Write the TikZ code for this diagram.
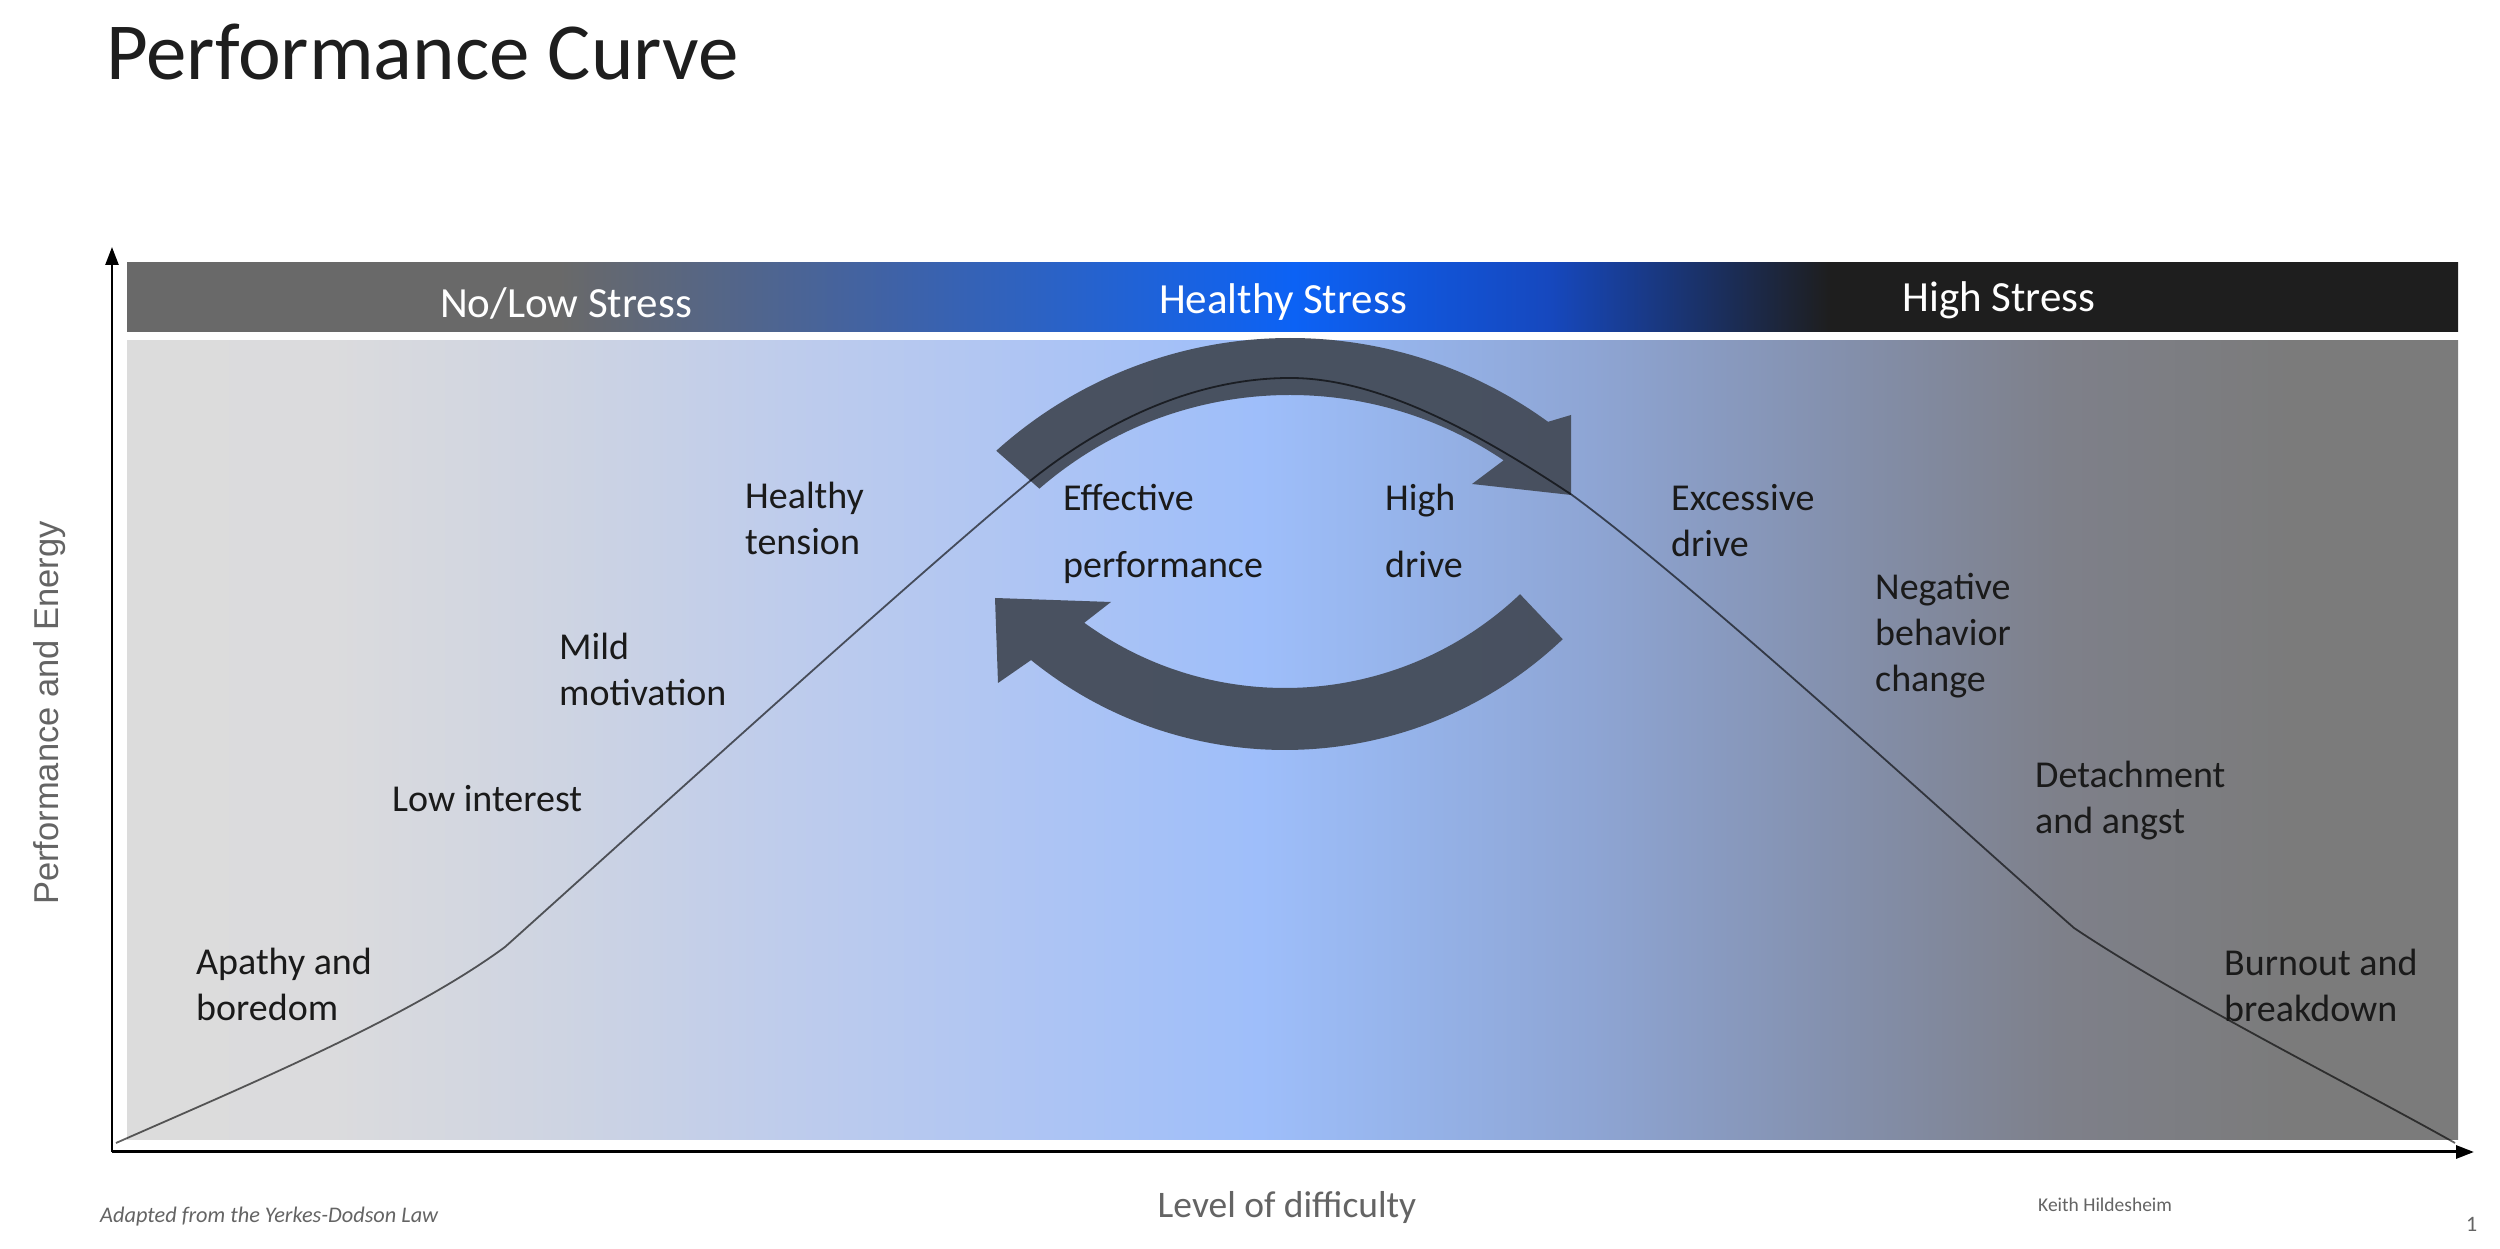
\documentclass[tikz,border=0pt]{standalone}
\usepackage{fontspec}
\setmainfont{Carlito}
\newfontfamily\axisfont{Liberation Sans}
\usetikzlibrary{arrows.meta,calc}

\definecolor{hgA}{RGB}{105,105,105}
\definecolor{hgB}{RGB}{62,98,168}
\definecolor{hgC}{RGB}{12,98,245}
\definecolor{hgD}{RGB}{22,72,190}
\definecolor{hgE}{RGB}{30,30,30}

\definecolor{pA}{RGB}{220,220,220}
\definecolor{pB}{RGB}{219,219,221}
\definecolor{pC}{RGB}{206,212,226}
\definecolor{pD}{RGB}{190,204,236}
\definecolor{pE}{RGB}{175,197,243}
\definecolor{pF}{RGB}{158,190,250}
\definecolor{pG}{RGB}{150,180,235}
\definecolor{pH}{RGB}{142,165,212}
\definecolor{pI}{RGB}{132,145,175}
\definecolor{pJ}{RGB}{126,128,138}
\definecolor{pK}{RGB}{123,123,123}

\definecolor{arrowfill}{RGB}{70,78,92}
\definecolor{labeltext}{RGB}{26,26,26}
\definecolor{axistext}{RGB}{100,100,100}
\definecolor{titletext}{RGB}{30,30,30}

\pgfdeclarehorizontalshading{headshade}{100bp}{%
  color(0bp)=(hgA); color(34.27bp)=(hgA); color(41.58bp)=(hgB);
  color(50.03bp)=(hgC); color(55.52bp)=(hgD); color(61.53bp)=(hgE);
  color(100bp)=(hgE)}
\pgfdeclarehorizontalshading{panelshade}{100bp}{%
  color(0bp)=(pA); color(25bp)=(pA); color(29.35bp)=(pB); color(34.27bp)=(pC);
  color(39.2bp)=(pD); color(44.1bp)=(pE); color(49.3bp)=(pF); color(52.24bp)=(pG);
  color(56.4bp)=(pH); color(61.42bp)=(pI); color(66.42bp)=(pJ); color(71.4bp)=(pK);
  color(100bp)=(pK)}

\begin{document}
\begin{tikzpicture}[x=1pt,y=1pt,
  lbl/.style={anchor=base west, inner sep=0pt, align=left, text=labeltext,
              font=\fontsize{38}{46}\selectfont},
  widelbl/.style={lbl, font=\fontsize{38}{67}\selectfont},
  headlbl/.style={anchor=base, inner sep=0pt, text=white, font=\fontsize{43}{52}\selectfont},
  axisline/.style={draw=black, line width=2.5pt, -{Triangle[length=18pt,width=13pt]}},
  cyclearrow/.style={fill=arrowfill, draw=none, fill opacity=0.97},
  curveline/.style={draw=black, draw opacity=0.62, line width=1.8pt},
  foot/.style={anchor=base west, inner sep=0pt, text=axistext, font=\fontsize{19.5}{24}\selectfont}]

\useasboundingbox (0,0) rectangle (2500,1249);
\fill[white] (0,0) rectangle (2500,1249);

% title
\node[anchor=base west, inner sep=0pt, text=titletext, font=\fontsize{81}{97}\selectfont]
  (title) at (106,1169) {Performance Curve};

% header band and panel
\shade[shading=headshade] (127,917) rectangle (2458,986);
\shade[shading=panelshade] (127,109) rectangle (2458,908);

\node[headlbl] (hlow) at (566,931) {No/Low Stress};
\node[headlbl] (hhealthy) at (1283,935) {Healthy Stress};
\node[headlbl] (hhigh) at (1999,937) {High Stress};

% axes
\coordinate (origin) at (112,97);
\coordinate (ytop) at (112,1002);
\coordinate (xend) at (2474,97);
\draw[axisline] (origin) -- (ytop);
\draw[axisline, line width=3pt] (origin) -- (xend);

% cycle arrows
\coordinate (c1) at (1290,472);
\coordinate (c2) at (1285,902.5);
\fill[cyclearrow] ($(c1)+(132:439)$) arc[start angle=132, end angle=54, radius=439]
  -- (1571,834) -- (1571,754) -- (1472,765)
  -- ($(c1)+(56:382)$) arc[start angle=56, end angle=131, radius=382] -- cycle;
\fill[cyclearrow] ($(c2)+(-46.5:403.5)$) arc[start angle=-46.5, end angle=-129, radius=403.5]
  -- (998,566) -- (995,651) -- (1111,647)
  -- ($(c2)+(-126:341.5)$) arc[start angle=-126, end angle=-46.5, radius=341.5] -- cycle;

% performance curve
\coordinate (cstart) at (116,106);
\coordinate (cpeak) at (1290,871);
\coordinate (cend) at (2455,106);
\draw[curveline] (cstart) .. controls (250,165) and (410,232) .. (505,302)
  .. controls (620,405) and (900,660) .. (1030,768)
  .. controls (1110,832) and (1200,871) .. (cpeak)
  .. controls (1380,871) and (1480,815) .. (1572,754)
  .. controls (1700,660) and (1950,430) .. (2074,321)
  .. controls (2180,250) and (2350,165) .. (cend);

% labels (anchored at the baseline of their last line)
\node[lbl] (apathy) at (196,228) {Apathy and\\boredom};
\node[lbl] (lowint) at (392,437) {Low interest};
\node[lbl] (mild) at (559,543) {Mild\\motivation};
\node[lbl] (tension) at (745,694) {Healthy\\tension};
\node[widelbl] (effective) at (1063,671) {Effective\\performance};
\node[widelbl] (highdrive) at (1385,671) {High\\drive};
\node[lbl] (excessive) at (1671,692) {Excessive\\drive};
\node[lbl] (negative) at (1875,557) {Negative\\behavior\\change};
\node[lbl] (detach) at (2035,415) {Detachment\\and angst};
\node[lbl] (burnout) at (2224,227) {Burnout and\\breakdown};

% axis titles and footers
\node[rotate=90, anchor=base, inner sep=0pt, text=axistext, font=\axisfont\fontsize{34.5}{40}\selectfont]
  (ylabel) at (58,536) {Performance and Energy};
\node[anchor=base, inner sep=0pt, text=axistext, font=\fontsize{37.5}{44}\selectfont]
  (xlabel) at (1287,31) {Level of difficulty};
\node[foot, font=\itshape\fontsize{22.3}{27}\selectfont] (adapted) at (100,26) {Adapted from the Yerkes-Dodson Law};
\node[foot] (author) at (2038,37) {Keith Hildesheim};
\node[foot, font=\fontsize{22}{26}\selectfont] (pagenum) at (2466,17) {1};
\end{tikzpicture}
\end{document}
